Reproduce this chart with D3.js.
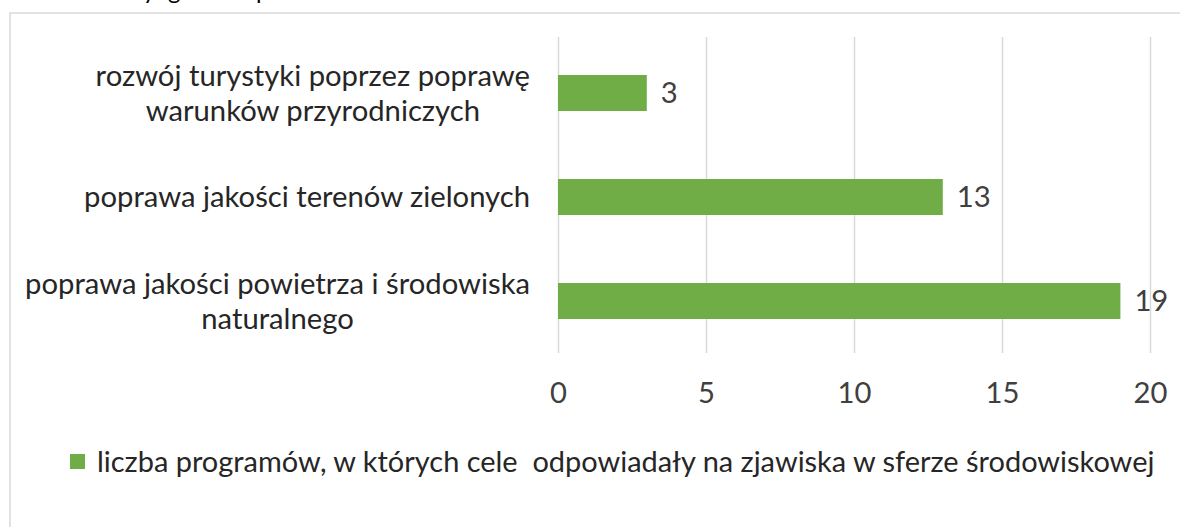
<!DOCTYPE html>
<html><head><meta charset="utf-8">
<script src="https://cdn.jsdelivr.net/npm/d3@7"></script>
<style>
body{margin:0;background:#fff;}
svg text{font-family:Lato,'Open Sans',sans-serif;}
</style>
</head><body>
<svg id="chart" width="1180" height="527"></svg>
<script>
// ---- data ----
const categories = [
  ["rozwój turystyki poprzez poprawę", "warunków przyrodniczych"],
  ["poprawa jakości terenów zielonych"],
  ["poprawa jakości powietrza i środowiska", "naturalnego"]
];
const values = [3, 13, 19];
const xTicks = [0, 5, 10, 15, 20];
const seriesName = "liczba programów, w których cele  odpowiadały na zjawiska w sferze środowiskowej";
// fragments of a caption line cut off at the top edge of the picture
const topFragments = [["y", 143], ["g", 168], ["p", 256]];

// ---- layout ----
const svg = d3.select("#chart");
const plot = {left: 558, right: 1150, top: 41, bottom: 353};
const green = "#70ad47";
const grid = "#d9d9d9";

// cut-off caption fragments (only descenders visible, as in the reference)
svg.selectAll("text.frag").data(topFragments).join("text")
  .attr("class", "frag")
  .attr("x", d => d[1]).attr("y", -1)
  .attr("font-size", 24).attr("fill", "#000")
  .text(d => d[0]);

// outer border (chart area frame, cropped on the right & bottom)
svg.append("rect")
  .attr("x", 10).attr("y", 13)
  .attr("width", 1300).attr("height", 600)
  .attr("fill", "#fff").attr("stroke", grid).attr("stroke-width", 1.5);

// base font size fitted so text widths resemble the original
function fitSize(str, target) {
  const p = svg.append("text").attr("font-size", 100).style("white-space", "pre").text(str);
  const w = p.node().getComputedTextLength();
  p.remove();
  return 100 * target / w;
}
const fs = fitSize(categories[1][0], 446);
const fsLegend = fitSize(seriesName, 1058);

const x = d3.scaleLinear().domain([0, 20]).range([plot.left, plot.right]);
const y = d3.scaleBand().domain(d3.range(values.length))
  .range([plot.top, plot.bottom]).paddingInner(0.654).paddingOuter(0.327);

// gridlines via axis
const gx = svg.append("g").attr("transform", `translate(0,${plot.bottom})`)
  .call(d3.axisBottom(x).tickValues(xTicks).tickSize(-(plot.bottom - plot.top + 4)).tickPadding(0).tickFormat(d3.format("d")));
gx.select(".domain").remove();
gx.selectAll(".tick line").attr("stroke", grid).attr("stroke-width", 1.5);
gx.selectAll(".tick text")
  .attr("font-size", fs).attr("fill", "#404040")
  .attr("y", 50).attr("dy", 0);

// bars
svg.selectAll("rect.bar").data(values).join("rect")
  .attr("class", "bar")
  .attr("x", x(0))
  .attr("y", (d, i) => y(i))
  .attr("width", d => x(d) - x(0))
  .attr("height", y.bandwidth())
  .attr("fill", green);

// data labels
svg.selectAll("text.val").data(values).join("text")
  .attr("class", "val")
  .attr("x", d => x(d) + 14)
  .attr("y", (d, i) => y(i) + y.bandwidth() / 2)
  .attr("dy", "0.35em")
  .attr("font-size", fs).attr("fill", "#404040")
  .text(d => d);

// category labels: right-aligned block, lines centered
const labelRight = 530;
const lineH = 35;
categories.forEach((lines, i) => {
  const cy = y(i) + y.bandwidth() / 2;
  const t = svg.append("text").attr("font-size", fs).attr("fill", "#262626")
    .attr("text-anchor", "middle");
  lines.forEach((ln, j) => {
    t.append("tspan").text(ln)
      .attr("y", cy + (j - (lines.length - 1) / 2) * lineH)
      .attr("dy", "0.35em");
  });
  const widths = [];
  t.selectAll("tspan").each(function(){ widths.push(this.getComputedTextLength()); });
  const cx = labelRight - d3.max(widths) / 2;
  t.selectAll("tspan").attr("x", cx);
});

// legend
svg.append("rect").attr("x", 70).attr("y", 454).attr("width", 15).attr("height", 15).attr("fill", green);
svg.append("text").attr("x", 97).attr("y", 462).attr("dy", "0.35em")
  .attr("font-size", fsLegend).attr("fill", "#262626")
  .style("white-space", "pre")
  .text(seriesName);
</script>
</body></html>
